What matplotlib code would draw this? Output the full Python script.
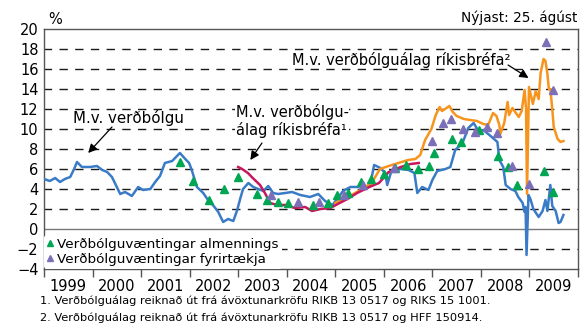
import matplotlib
matplotlib.use("Agg")
import matplotlib.pyplot as plt
import numpy as np

# Inflation expectations, Iceland 1999-2009 (%)
cpi_t = [1999.00, 1999.12, 1999.23, 1999.33, 1999.43, 1999.54, 1999.62, 1999.68, 1999.78, 1999.95,
         2000.09, 2000.20, 2000.30, 2000.40, 2000.51, 2000.57, 2000.67, 2000.81, 2000.94, 2001.04,
         2001.19, 2001.29, 2001.39, 2001.49, 2001.64, 2001.72, 2001.80, 2001.91, 2001.99, 2002.05,
         2002.15, 2002.28, 2002.42, 2002.48, 2002.59, 2002.69, 2002.79, 2002.90, 2002.98, 2003.04,
         2003.10, 2003.21, 2003.31, 2003.41, 2003.52, 2003.62, 2003.72, 2003.82, 2003.97, 2004.11,
         2004.28, 2004.48, 2004.65, 2004.79, 2004.94, 2005.04, 2005.16, 2005.31, 2005.47, 2005.58,
         2005.64, 2005.72, 2005.80, 2005.93, 2006.03, 2006.07, 2006.15, 2006.34, 2006.51, 2006.63,
         2006.69, 2006.79, 2006.92, 2007.00, 2007.10, 2007.27, 2007.37, 2007.47, 2007.62, 2007.74,
         2007.85, 2007.95, 2008.05, 2008.20, 2008.34, 2008.38, 2008.46, 2008.51, 2008.61, 2008.71,
         2008.77, 2008.86, 2008.90, 2008.92, 2008.94, 2008.98, 2009.02, 2009.08, 2009.19, 2009.27,
         2009.33, 2009.37, 2009.43, 2009.47, 2009.54, 2009.60, 2009.64, 2009.70]
cpi_v = [5.0, 4.8, 5.1, 4.7, 5.0, 5.2, 6.0, 6.7, 6.2, 6.2,
         6.3, 5.9, 5.7, 5.2, 4.1, 3.5, 3.7, 3.3, 4.2, 3.9,
         4.0, 4.7, 5.3, 6.6, 6.8, 7.2, 7.6, 7.0, 6.6, 5.8,
         4.2, 3.6, 2.6, 2.4, 1.7, 0.7, 1.0, 0.8, 1.9, 3.0,
         4.0, 4.6, 4.2, 4.0, 3.8, 4.3, 3.6, 3.5, 3.6, 3.7,
         3.4, 3.2, 3.5, 2.8, 2.4, 3.0, 3.8, 4.2, 4.2, 4.5,
         4.0, 4.4, 6.4, 6.1, 5.6, 4.4, 5.7, 6.0, 5.9, 5.6,
         3.6, 4.2, 3.9, 4.9, 5.8, 6.0, 6.2, 7.9, 8.6, 10.1,
         10.6, 9.8, 9.9, 9.3, 8.7, 6.9, 6.2, 4.4, 4.0, 3.8,
         3.2, 2.6, 1.7, 2.2, -2.6, 3.4, 3.0, 2.0, 1.2, 1.8,
         2.9, 1.8, 4.4, 2.3, 1.8, 0.6, 0.7, 1.4]

be1_t = [2003.00, 2003.08, 2003.20, 2003.30, 2003.45, 2003.55, 2003.66, 2003.80, 2003.97, 2004.17,
         2004.38, 2004.52, 2004.70, 2004.90, 2005.05, 2005.25, 2005.45, 2005.70, 2005.90, 2006.10,
         2006.35, 2006.55, 2006.72]
be1_v = [6.2, 6.0, 5.6, 5.1, 4.4, 3.6, 2.6, 2.4, 2.4, 2.1,
         2.2, 1.8, 2.0, 2.1, 2.5, 3.0, 3.6, 4.2, 4.6, 5.7,
         6.2, 6.5, 6.6]

be2_t = [2005.00, 2005.30, 2005.55, 2005.75, 2005.92, 2006.10, 2006.30, 2006.50, 2006.65, 2006.75,
         2006.85, 2006.98, 2007.07, 2007.15, 2007.20, 2007.35, 2007.42, 2007.50, 2007.65, 2007.78,
         2007.92, 2008.05, 2008.15, 2008.25, 2008.32, 2008.38, 2008.40, 2008.48, 2008.55, 2008.58,
         2008.65, 2008.72, 2008.78, 2008.84, 2008.90, 2008.93, 2008.95, 2008.99, 2009.07, 2009.13,
         2009.19, 2009.23, 2009.29, 2009.33, 2009.37, 2009.40, 2009.43, 2009.47, 2009.50, 2009.58,
         2009.64, 2009.70]
be2_v = [2.6, 3.3, 4.0, 4.6, 6.0, 6.3, 6.6, 6.9, 7.0, 7.4,
         8.9, 10.0, 11.4, 12.2, 11.8, 12.3, 11.7, 11.3, 11.0, 10.9,
         10.8, 10.5, 10.4, 11.6, 11.3, 10.4, 9.5, 10.6, 12.7, 11.4,
         12.1, 11.6, 11.2, 11.8, 13.9, 12.0, 3.5, 14.2, 12.5, 13.8,
         13.0, 15.6, 17.0, 16.8, 15.5, 14.0, 14.0, 12.0, 10.2, 9.0,
         8.7, 8.8]

hh_t = [2001.80, 2002.07, 2002.40, 2002.71, 2003.00, 2003.39, 2003.59, 2003.83, 2004.03, 2004.55,
        2004.84, 2005.04, 2005.27, 2005.52, 2005.74, 2006.01, 2006.24, 2006.46, 2006.71, 2006.94,
        2007.04, 2007.41, 2007.60, 2007.97, 2008.36, 2008.55, 2008.75, 2009.29, 2009.49]
hh_v = [6.7, 4.8, 2.9, 4.0, 5.2, 3.5, 2.9, 2.7, 2.6, 2.4,
        2.6, 3.4, 3.6, 4.7, 5.0, 5.5, 6.1, 6.4, 6.0, 6.3,
        7.6, 9.0, 8.7, 9.9, 7.3, 6.2, 4.4, 5.8, 3.7]

fi_t = [2003.68, 2004.24, 2004.67, 2005.17, 2005.58, 2006.20, 2007.00, 2007.21, 2007.39, 2007.64,
        2007.87, 2008.13, 2008.34, 2008.65, 2009.00, 2009.35, 2009.49]
fi_v = [3.4, 2.7, 2.7, 3.4, 4.4, 6.1, 8.8, 10.6, 11.0, 10.0,
        9.7, 10.2, 9.6, 6.3, 4.5, 18.7, 13.9]

years = list(range(1999, 2010))

BLUE = "#3a7bc8"
ORANGE = "#f7941d"
MAGENTA = "#c8175d"
GREEN = "#00a651"
PURPLE = "#7b6fb8"

plt.rcParams["font.family"] = ["DejaVu Sans"]

fig = plt.figure(figsize=(5.85, 3.26), dpi=100)
ax = fig.add_axes([44 / 585, 1 - 269 / 326, 534 / 585, 240 / 326])

# grid
for y in [-2, 2, 4, 6, 8, 10, 12, 14, 16, 18]:
    ax.axhline(y, color="#1a1a1a", lw=1.0, ls=(0.5, (6, 5.3)), zorder=1)
ax.axhline(0, color="#777777", lw=1.0, zorder=1)

ax.plot(cpi_t, cpi_v, color=BLUE, lw=1.8, zorder=3)
ax.plot(be2_t, be2_v, color=ORANGE, lw=1.8, zorder=3)
ax.plot(be1_t, be1_v, color=MAGENTA, lw=1.8, zorder=4)
ax.plot(hh_t, hh_v, ls="none", marker="^", ms=6, color=GREEN, zorder=5,
        label="Verðbólguvæntingar almennings")
ax.plot(fi_t, fi_v, ls="none", marker="^", ms=6, color=PURPLE, zorder=5,
        label="Verðbólguvæntingar fyrirtækja")

ax.set_xlim(1999, 2010)
ax.set_ylim(-4, 20)
ax.set_yticks(range(-4, 21, 2))
ax.tick_params(axis="y", length=0, labelsize=10.5, pad=4)

# year boundaries as ticks, year labels centred in between
ax.set_xticks(years + [2010])
ax.set_xticklabels([])
ax.set_xticks([y + 0.5 for y in years], minor=True)
ax.set_xticklabels([str(y) for y in years], minor=True, fontsize=10.5)
ax.tick_params(axis="x", which="major", direction="out", length=6, width=1, color="#555555")
ax.tick_params(axis="x", which="minor", length=0, pad=7)

for s in ax.spines.values():
    s.set_color("#555555")
    s.set_linewidth(1.0)

leg = ax.legend(loc="lower left", bbox_to_anchor=(-0.005, -0.01), frameon=True,
                fontsize=9.7, handlelength=0.5, handletextpad=0.3, borderpad=0.2,
                labelspacing=0.15, borderaxespad=0.2, markerscale=0.75)
leg.get_frame().set_edgecolor("none")
leg.get_frame().set_facecolor("white")
leg.get_frame().set_alpha(1)
leg.set_zorder(6)

arrow = dict(arrowstyle="-|>", color="black", lw=0.9, mutation_scale=13, shrinkA=0, shrinkB=0)
ax.text(2000.74, 11.1, "M.v. verðbólgu", fontsize=10.8, ha="center", va="center", zorder=7)
ax.annotate("", xy=(1999.91, 7.6), xytext=(2000.40, 10.2), arrowprops=arrow, zorder=7)
ax.text(2002.95, 10.8, "M.v. verðbólgu-\nálag ríkisbréfa¹", fontsize=10.5, ha="left", va="center",
        linespacing=1.2, zorder=7,
        bbox=dict(facecolor="white", edgecolor="none", pad=0.5))
ax.annotate("", xy=(2003.25, 6.9), xytext=(2003.49, 8.6), arrowprops=arrow, zorder=7)
ax.text(2006.36, 16.9, "M.v. verðbólguálag ríkisbréfa²", fontsize=10.5, ha="center", va="center",
        zorder=7)
ax.annotate("", xy=(2008.98, 15.1), xytext=(2008.56, 16.4), arrowprops=arrow, zorder=7)

fig.text(48 / 585, 1 - 19 / 326, "%", fontsize=10.5, ha="left", va="center")
fig.text(577 / 585, 1 - 18 / 326, "Nýjast: 25. ágúst", fontsize=9.8, ha="right", va="center")
fig.text(40 / 585, 1 - 301 / 326, "1. Verðbólguálag reiknað út frá ávöxtunarkröfu RIKB 13 0517 og RIKS 15 1001.",
         fontsize=8.2, ha="left", va="center")
fig.text(40 / 585, 1 - 318 / 326, "2. Verðbólguálag reiknað út frá ávöxtunarkröfu RIKB 13 0517 og HFF 150914.",
         fontsize=8.2, ha="left", va="center")

fig.savefig("out.png", dpi=100)
